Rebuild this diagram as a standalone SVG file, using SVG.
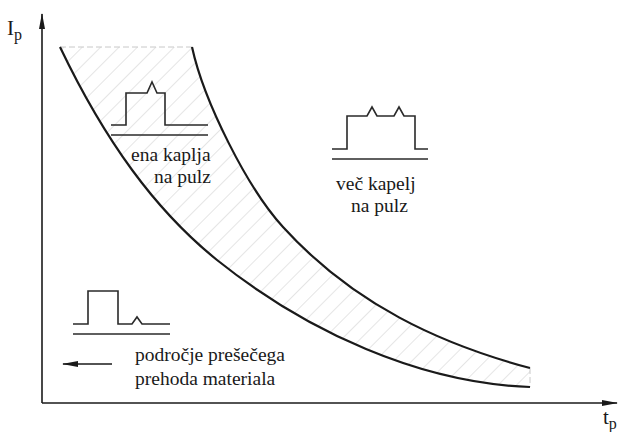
<svg xmlns="http://www.w3.org/2000/svg" width="622" height="432" viewBox="0 0 622 432">
<style>
.axis{stroke:#1a1a1a;stroke-width:1.6;fill:none}
.curve{stroke:#1a1a1a;stroke-width:2.2;fill:none}
.pulse{stroke:#2a2a2a;stroke-width:1.6;fill:none}
.edge{stroke:#c8c8c8;stroke-width:1;fill:none;stroke-dasharray:6 3}
text{fill:#1a1a1a}
</style>
<defs>
<pattern id="hatch" patternUnits="userSpaceOnUse" width="13" height="13" patternTransform="rotate(45)">
<line x1="0" y1="0" x2="0" y2="13" stroke="#cccccc" stroke-width="1"/>
</pattern>
<marker id="arr" viewBox="0 0 16 8" refX="15" refY="4" markerWidth="16" markerHeight="8" markerUnits="userSpaceOnUse" orient="auto">
<path d="M0,1 L16,4 L0,7 Z" fill="#1a1a1a"/>
</marker>
</defs>

<g id="region">
<path d="M60,47 C105,141 155,210 217,260 C307,332 420,383 530,387 L530,368 C440,344 353,304 283,227 C248,189 204,102 192,47 Z" fill="url(#hatch)" stroke="none"/>
<path class="edge" d="M60,47 L192,47"/>
<path class="edge" d="M530,368 L530,387"/>
</g>

<g id="connectors">
<path class="axis" d="M42,403 L42,14" marker-end="url(#arr)"/>
<path class="axis" d="M42,403 L617,403" marker-end="url(#arr)"/>
<path class="curve" d="M60,47 C105,141 155,210 217,260 C307,332 420,383 530,387"/>
<path class="curve" d="M192,47 C204,102 248,189 283,227 C353,304 440,344 530,368"/>
<path class="axis" d="M112,364 L63,364" marker-end="url(#arr)"/>
</g>

<g id="axis-labels" font-family="Liberation Serif, DejaVu Serif, serif">
<text x="7" y="35" font-size="21">I<tspan font-size="16" dy="5">p</tspan></text>
<text x="603" y="424" font-size="21">t<tspan font-size="16" dy="5">p</tspan></text>
</g>

<g id="single-drop" font-family="Liberation Serif, DejaVu Serif, serif" font-size="19.5">
<path class="pulse" d="M111,125 L126,125 L126,93 L147,93 L152,82 L157,93 L165,93 L165,125 L208,125"/>
<path class="pulse" d="M111,135 L208,135"/>
<text x="131" y="161">ena kaplja</text>
<text x="154" y="183">na pulz</text>
</g>

<g id="multi-drop" font-family="Liberation Serif, DejaVu Serif, serif" font-size="19.5">
<path class="pulse" d="M332,149 L347,149 L347,116 L367,116 L372,107 L377,116 L394,116 L399,107 L404,116 L415,116 L415,149 L428,149"/>
<path class="pulse" d="M332,159 L428,159"/>
<text x="336" y="190">več kapelj</text>
<text x="351" y="212">na pulz</text>
</g>

<g id="transfer" font-family="Liberation Serif, DejaVu Serif, serif" font-size="19.5">
<path class="pulse" d="M73,324 L88,324 L88,291 L118,291 L118,324 L132,324 L137,317 L142,324 L170,324"/>
<path class="pulse" d="M73,334 L170,334"/>
<text x="135" y="361">področje prešečega</text>
<text x="135" y="385">prehoda materiala</text>
</g>
</svg>
